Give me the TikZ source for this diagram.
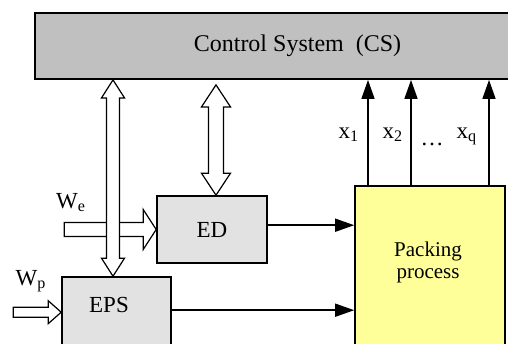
\documentclass[tikz,border=0pt]{standalone}
\usepackage{fontspec}
\setmainfont{Liberation Serif}
\usepackage{tikz}
\usetikzlibrary{arrows.meta, calc}
\definecolor{csfill}{HTML}{C0C0C0}
\definecolor{unitfill}{HTML}{E2E2E2}
\definecolor{procfill}{HTML}{FFFF99}
\tikzset{
  csblk/.style   = {rectangle, draw=black, fill=csfill, line width=0.9pt,
                    font=\fontsize{12}{14}\selectfont, inner sep=0pt},
  unitblk/.style = {rectangle, draw=black, fill=unitfill, line width=0.8pt,
                    font=\fontsize{11.5}{13}\selectfont, inner sep=0pt},
  procblk/.style = {rectangle, draw=black, fill=procfill, line width=0.8pt, inner sep=0pt},
  lbl/.style     = {font=\fontsize{11.5}{13}\selectfont, inner sep=0pt},
  flow/.style    = {-{Triangle[length=9.5pt, width=6.5pt]}, line width=0.8pt},
  hollow/.style  = {draw=black, fill=white, line width=0.6pt, line join=miter},
}
% right-pointing block arrow: tip, total length, shaft half width, head half width, head length
\newcommand{\hollowarrow}[5]{%
  \filldraw[hollow] (#1) -- ++(-#5,-#4) -- ++(0,#4-#3) -- ++(-#2+#5,0) -- ++(0,2*#3)
    -- ++(#2-#5,0) -- ++(0,#4-#3) -- cycle;}
% vertical two-headed block arrow: top tip, bottom tip, shaft half width, head half width, head length
\newcommand{\hollowdblarrow}[5]{%
  \filldraw[hollow] (#1) -- ++(#4,#5) -- ++(-#4+#3,0) -- ($(#2)+(#3,-#5)$) -- ++(#4-#3,0)
    -- (#2) -- ++(-#4,-#5) -- ++(#4-#3,0) -- ($(#1)+(-#3,#5)$) -- ++(-#4+#3,0) -- cycle;}

\begin{document}
\begin{tikzpicture}[x=0.5pt, y=-0.5pt]
    \useasboundingbox (0,0) rectangle (508,343);
    \clip (0,0) rectangle (508,343);
    % blocks
    \node[csblk, minimum width=262.5pt, minimum height=33pt] (cs) at (297.5,46) {Control System\ \ (CS)};
    \node[unitblk, minimum width=55pt, minimum height=33.5pt] (ed) at (212,229.5) {ED};
    \node[unitblk, minimum width=54.5pt, minimum height=51.5pt] (eps) at (116.5,328.5) {};
    \node[lbl] (epslbl) at (109,305) {EPS};
    \node[procblk, minimum width=75pt, minimum height=97pt] (pack) at (430,283) {};
    \node[lbl, align=center, font=\fontsize{10.5}{11}\selectfont] (packlbl) at (428,262) {Packing\\process};
    % inputs
    \coordinate (wpin)   at ($(eps.north west)+(0,36)$);
    \coordinate (epsout) at ($(eps.north east)+(0,34)$);
    \coordinate (edout)  at ($(ed.north east)+(0,30)$);
    \hollowarrow{ed.west}{92}{7}{20}{13}
    \hollowarrow{wpin}{48}{5}{11.5}{13}
    \node[lbl, anchor=base] (we) at (71,208) {W\textsubscript{e}};
    \node[lbl, anchor=base] (wp) at (31,285) {W\textsubscript{p}};
    % links with the control system
    \coordinate (lnkat) at (cs.south -| 113,0);
    \coordinate (lnkab) at (eps.north -| 113,0);
    \coordinate (lnkbt) at ($(cs.south -| 216,0)+(0,5)$);
    \coordinate (lnkbb) at (ed.north -| 216,0);
    \hollowdblarrow{lnkat}{lnkab}{6.5}{11.5}{18}
    \hollowdblarrow{lnkbt}{lnkbb}{7.5}{14.5}{22}
    % flows into the process and measured outputs
    \draw[flow] (edout) -- (edout -| pack.west);
    \draw[flow] (epsout) -- (epsout -| pack.west);
    \foreach \xo in {368,411,489}
        \draw[flow] (pack.north -| \xo,0) -- (cs.south -| \xo,0);
    \node[lbl, anchor=base] (xa) at (349,138) {x\textsubscript{1}};
    \node[lbl, anchor=base] (xb) at (393,138) {x\textsubscript{2}};
    \node[lbl, anchor=base] (xdots) at (432,145) {\dots};
    \node[lbl, anchor=base] (xq) at (467,138) {x\textsubscript{q}};
\end{tikzpicture}
\end{document}
